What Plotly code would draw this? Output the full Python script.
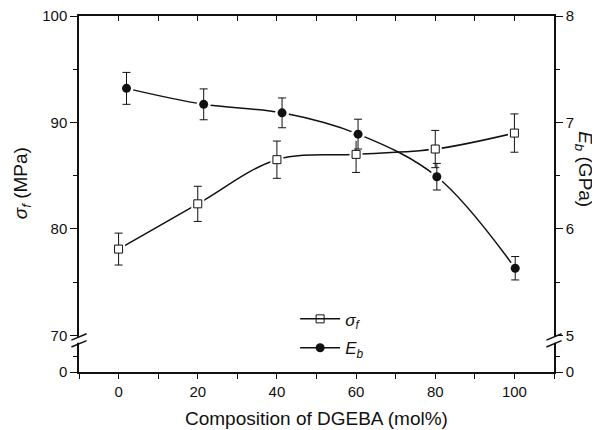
import plotly.graph_objects as go

# composition of DGEBA (mol%)
comp_sigma = [0, 20, 40, 60, 80, 100]
comp_eb = [2, 21.5, 41.3, 60.5, 80.4, 100.2]

# flexural strength sigma_f (MPa) and error
sigma_f = [78.1, 82.35, 86.5, 87.0, 87.5, 89.0]
sigma_err = [1.5, 1.65, 1.75, 1.7, 1.75, 1.8]

# bending modulus E_b (GPa) and error
e_b = [7.32, 7.17, 7.09, 6.89, 6.49, 5.63]
e_b_err = [0.15, 0.145, 0.14, 0.14, 0.125, 0.11]

# broken axes: the "0" tick sits just below the break
y_bottom = 66.55
y2_bottom = y_bottom / 10 - 2

font = "Liberation Sans, Arial, sans-serif"
ink = "#111111"

fig = go.Figure()

# lines + markers (legend entries)
fig.add_trace(go.Scatter(
    x=comp_sigma, y=sigma_f, mode="lines+markers", name="<i>σ</i><sub><i>f</i></sub>",
    legend="legend",
    line=dict(color=ink, width=1.5, shape="spline", smoothing=1),
    marker=dict(symbol="square-open", size=8, color=ink, line=dict(width=1))))
fig.add_trace(go.Scatter(
    x=comp_eb, y=e_b, yaxis="y2", mode="lines+markers", name="<i>E</i><sub><i>b</i></sub>",
    legend="legend2",
    line=dict(color=ink, width=1.5, shape="spline", smoothing=1),
    marker=dict(symbol="circle", size=9, color=ink)))

# white halos give the small gap between line and marker
fig.add_trace(go.Scatter(x=comp_sigma, y=sigma_f, mode="markers", showlegend=False,
                         hoverinfo="skip", marker=dict(symbol="square", size=13, color="white")))
fig.add_trace(go.Scatter(x=comp_eb, y=e_b, yaxis="y2", mode="markers", showlegend=False,
                         hoverinfo="skip", marker=dict(symbol="circle", size=14, color="white")))

# markers with error bars on top
fig.add_trace(go.Scatter(
    x=comp_sigma, y=sigma_f, mode="markers", showlegend=False,
    error_y=dict(type="data", array=sigma_err, color=ink, thickness=1, width=4),
    marker=dict(symbol="square", size=8, color="white", line=dict(width=1, color=ink))))
fig.add_trace(go.Scatter(
    x=comp_eb, y=e_b, yaxis="y2", mode="markers", showlegend=False,
    error_y=dict(type="data", array=e_b_err, color=ink, thickness=1, width=4),
    marker=dict(symbol="circle", size=9, color=ink)))

# dummy trace so the top axis is drawn
fig.add_trace(go.Scatter(x=[comp_sigma[0]], y=[sigma_f[0]], xaxis="x2", mode="markers",
                         showlegend=False, hoverinfo="skip", marker=dict(opacity=0)))

axis_common = dict(showline=True, linecolor=ink, linewidth=1.5, showgrid=False,
                   zeroline=False, tickcolor=ink, tickwidth=1.2, automargin=False,
                   ticklabeloverflow="allow",
                   tickfont=dict(family=font, size=15, color=ink))

legend_common = dict(xanchor="left", yanchor="middle", bgcolor="rgba(0,0,0,0)",
                     itemwidth=40, font=dict(family=font, size=17, color=ink))

fig.update_layout(
    width=600, height=430,
    margin=dict(l=71, r=54, t=8, b=66),
    paper_bgcolor="white", plot_bgcolor="white",
    font=dict(family=font, size=15, color=ink),
    xaxis=dict(range=[-10, 110], tickvals=[0, 20, 40, 60, 80, 100], ticks="outside",
               ticklen=5, minor=dict(dtick=10, ticks="outside", ticklen=5, tickcolor=ink),
               **axis_common),
    xaxis2=dict(range=[-10, 110], overlaying="x", side="top", ticks="inside", ticklen=5,
                dtick=10, showticklabels=False, matches="x",
                **axis_common),
    yaxis=dict(range=[y_bottom, 100], tickvals=[y_bottom, 70, 80, 90, 100],
               ticktext=["0", "70", "80", "90", "100"], ticks="outside", ticklen=7,
               minor=dict(tickvals=[68.0, 75, 85, 95], ticks="outside",
                          ticklen=4, tickcolor=ink),
               **axis_common),
    yaxis2=dict(range=[y2_bottom, 8], overlaying="y", side="right",
                tickvals=[y2_bottom, 5, 6, 7, 8], ticktext=["0", "5", "6", "7", "8"],
                ticks="outside", ticklen=7,
                minor=dict(tickvals=[4.8, 5.5, 6.5, 7.5], ticks="outside",
                           ticklen=4, tickcolor=ink),
                **axis_common),
    legend=dict(x=0.455, y=0.148, **legend_common),
    legend2=dict(x=0.455, y=0.067, **legend_common),
    showlegend=True,
)

# axis titles
fig.add_annotation(text="Composition of DGEBA (mol%)", xref="paper", yref="paper",
                   x=0.5, y=-0.132, showarrow=False, xanchor="center", yanchor="middle",
                   font=dict(family=font, size=19, color=ink))
fig.add_annotation(text="<i>σ</i><sub><i>f</i></sub> (MPa)", xref="paper", yref="paper",
                   x=-0.12, y=0.53, showarrow=False, textangle=-90,
                   xanchor="center", yanchor="middle",
                   font=dict(family=font, size=19, color=ink))
fig.add_annotation(text="<i>E</i><sub><i>b</i></sub> (GPa)", xref="paper", yref="paper",
                   x=1.063, y=0.57, showarrow=False, textangle=90,
                   xanchor="center", yanchor="middle",
                   font=dict(family=font, size=19, color=ink))

# axis break marks on both y axes
for xp in [0, 1]:
    fig.add_shape(type="rect", xref="paper", yref="y", x0=xp - 0.006, x1=xp + 0.006,
                  y0=69.3, y1=69.85, fillcolor="white", line=dict(width=0), layer="above")
    for yb in [69.85, 69.2]:
        fig.add_shape(type="line", xref="paper", yref="y", x0=xp - 0.016, x1=xp + 0.016,
                      y0=yb - 0.3, y1=yb + 0.3, line=dict(color=ink, width=1.5), layer="above")

fig.write_html("out.html")
